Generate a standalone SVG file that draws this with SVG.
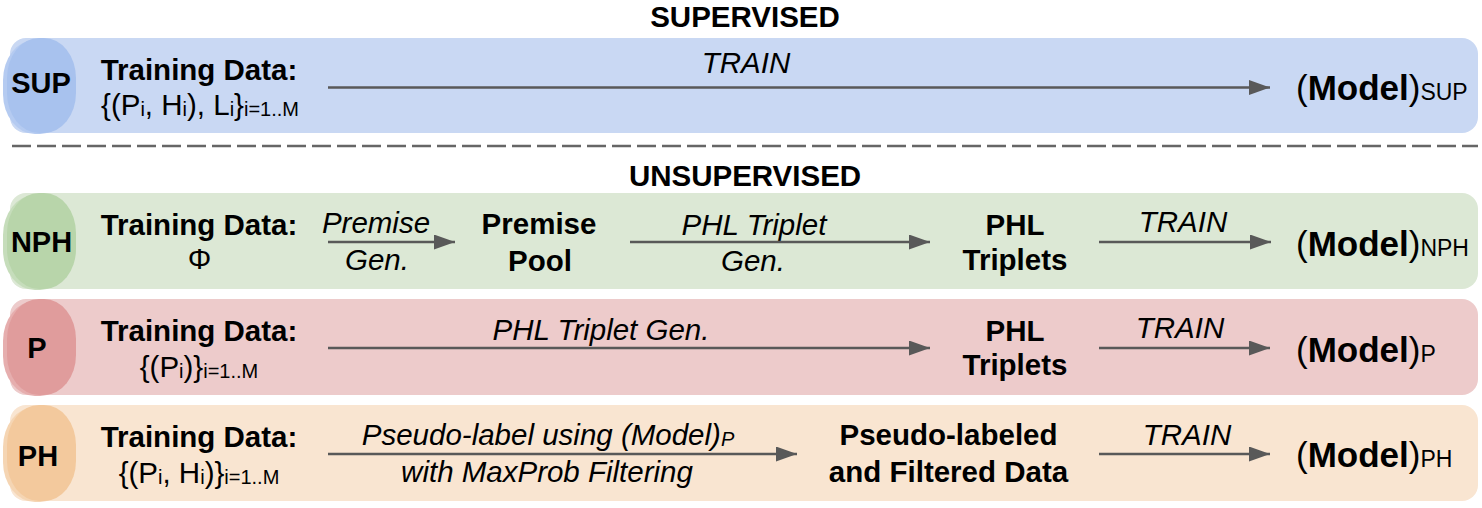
<svg xmlns="http://www.w3.org/2000/svg" width="1482" height="508" viewBox="0 0 1482 508">
<defs>
<marker id="ah" viewBox="0 0 21 15" refX="21" refY="7.5" markerWidth="21" markerHeight="15" markerUnits="userSpaceOnUse" orient="auto">
<path d="M0,0 L21,7.5 L0,15 Z" fill="#595959"/>
</marker>
<style>
text{font-family:"Liberation Sans",Arial,sans-serif;fill:#000;}
.b{font-weight:bold;font-size:29.5px;}
.n{font-size:29.5px;}
.i{font-style:italic;font-size:29.5px;}
.s{font-size:20px;}
.m{font-weight:bold;font-size:35px;}
.mp{font-size:35px;font-weight:normal;}
.ms{font-size:23px;font-weight:normal;}
.badge{font-weight:bold;font-size:29px;}
.arr{stroke:#595959;stroke-width:2.6;fill:none;}
</style>
</defs>
<rect width="1482" height="508" fill="#fff"/>
<text class="b" x="745" y="27" text-anchor="middle">SUPERVISED</text>
<text class="b" x="745" y="186" text-anchor="middle">UNSUPERVISED</text>
<line x1="12" y1="146" x2="1478" y2="146" stroke="#666" stroke-width="2.5" stroke-dasharray="19 6"/>

<g id="sup">
<rect x="10" y="38" width="1468" height="95" rx="16" fill="#c9d8f3"/>
<rect x="3" y="40" width="69" height="94" rx="32" ry="40" fill="#b5cbf1"/>
<rect x="7" y="38" width="69" height="95" rx="32" ry="40" fill="#a8c2ee"/>
<text class="badge" x="41" y="93" text-anchor="middle">SUP</text>
<text class="b" x="199" y="80" text-anchor="middle">Training Data:</text>
<text class="n" x="200" y="115" text-anchor="middle">{(P<tspan class="s" dy="1">i</tspan><tspan dy="-1">, H</tspan><tspan class="s" dy="1">i</tspan><tspan dy="-1">), L</tspan><tspan class="s" dy="1">i</tspan><tspan dy="-1">}</tspan><tspan class="s" dy="1">i=1..M</tspan></text>
<text class="i" x="746" y="73" text-anchor="middle">TRAIN</text>
<text class="m" x="1296" y="100"><tspan class="mp">(</tspan>Model<tspan class="mp">)</tspan><tspan class="ms">SUP</tspan></text>
</g>

<g id="nph">
<rect x="10" y="193" width="1468" height="96" rx="16" fill="#dce8d5"/>
<rect x="3" y="195" width="69" height="95" rx="32" ry="40" fill="#c6ddbb"/>
<rect x="7" y="193" width="69" height="96" rx="32" ry="40" fill="#b8d5aa"/>
<text class="badge" x="41.5" y="252" text-anchor="middle">NPH</text>
<text class="b" x="199" y="235" text-anchor="middle">Training Data:</text>
<text class="n" x="199.5" y="269" text-anchor="middle">Φ</text>
<text class="i" x="376" y="233" text-anchor="middle">Premise</text>
<text class="i" x="377" y="270" text-anchor="middle">Gen.</text>
<text class="b" x="539" y="234" text-anchor="middle">Premise</text>
<text class="b" x="540" y="271" text-anchor="middle">Pool</text>
<text class="i" x="754" y="235" text-anchor="middle">PHL Triplet</text>
<text class="i" x="753" y="271" text-anchor="middle">Gen.</text>
<text class="b" x="1015" y="235" text-anchor="middle">PHL</text>
<text class="b" x="1015" y="270" text-anchor="middle">Triplets</text>
<text class="i" x="1183" y="232" text-anchor="middle">TRAIN</text>
<text class="m" x="1296" y="256"><tspan class="mp">(</tspan>Model<tspan class="mp">)</tspan><tspan class="ms">NPH</tspan></text>
</g>

<g id="p">
<rect x="10" y="299" width="1468" height="96" rx="16" fill="#edcbcb"/>
<rect x="3" y="301" width="69" height="95" rx="32" ry="40" fill="#e6aeae"/>
<rect x="7" y="299" width="69" height="96" rx="32" ry="40" fill="#e09c9c"/>
<text class="badge" x="37" y="358" text-anchor="middle">P</text>
<text class="b" x="199" y="341" text-anchor="middle">Training Data:</text>
<text class="n" x="199" y="377" text-anchor="middle">{(P<tspan class="s" dy="1">i</tspan><tspan dy="-1">)}</tspan><tspan class="s" dy="1">i=1..M</tspan></text>
<text class="i" x="601" y="340" text-anchor="middle">PHL Triplet Gen.</text>
<text class="b" x="1015" y="341" text-anchor="middle">PHL</text>
<text class="b" x="1015" y="375" text-anchor="middle">Triplets</text>
<text class="i" x="1180" y="338" text-anchor="middle">TRAIN</text>
<text class="m" x="1296" y="362"><tspan class="mp">(</tspan>Model<tspan class="mp">)</tspan><tspan class="ms">P</tspan></text>
</g>

<g id="ph">
<rect x="10" y="405" width="1468" height="96" rx="16" fill="#f9e5d1"/>
<rect x="3" y="407" width="69" height="95" rx="32" ry="40" fill="#f5d5b3"/>
<rect x="7" y="405" width="69" height="96" rx="32" ry="40" fill="#f3c99d"/>
<text class="badge" x="38" y="466" text-anchor="middle">PH</text>
<text class="b" x="199" y="447" text-anchor="middle">Training Data:</text>
<text class="n" x="199" y="483" text-anchor="middle">{(P<tspan class="s" dy="1">i</tspan><tspan dy="-1">, H</tspan><tspan class="s" dy="1">i</tspan><tspan dy="-1">)}</tspan><tspan class="s" dy="1">i=1..M</tspan></text>
<text class="i" x="548" y="445" text-anchor="middle">Pseudo-label using (Model)<tspan style="font-size:20px" dy="1">P</tspan></text>
<text class="i" x="547" y="482" text-anchor="middle">with MaxProb Filtering</text>
<text class="b" x="948.5" y="445" text-anchor="middle">Pseudo-labeled</text>
<text class="b" x="948.5" y="482" text-anchor="middle">and Filtered Data</text>
<text class="i" x="1187" y="445" text-anchor="middle">TRAIN</text>
<text class="m" x="1296" y="467"><tspan class="mp">(</tspan>Model<tspan class="mp">)</tspan><tspan class="ms">PH</tspan></text>
</g>

<g id="connectors">
<line class="arr" x1="328" y1="87.5" x2="1270" y2="87.5" marker-end="url(#ah)"/>
<line class="arr" x1="328" y1="242" x2="455" y2="242" marker-end="url(#ah)"/>
<line class="arr" x1="630" y1="242" x2="930" y2="242" marker-end="url(#ah)"/>
<line class="arr" x1="1099" y1="242" x2="1271" y2="242" marker-end="url(#ah)"/>
<line class="arr" x1="328" y1="348" x2="930" y2="348" marker-end="url(#ah)"/>
<line class="arr" x1="1099" y1="348" x2="1270" y2="348" marker-end="url(#ah)"/>
<line class="arr" x1="328" y1="454" x2="797" y2="454" marker-end="url(#ah)"/>
<line class="arr" x1="1099" y1="454" x2="1270" y2="454" marker-end="url(#ah)"/>
</g>
</svg>
